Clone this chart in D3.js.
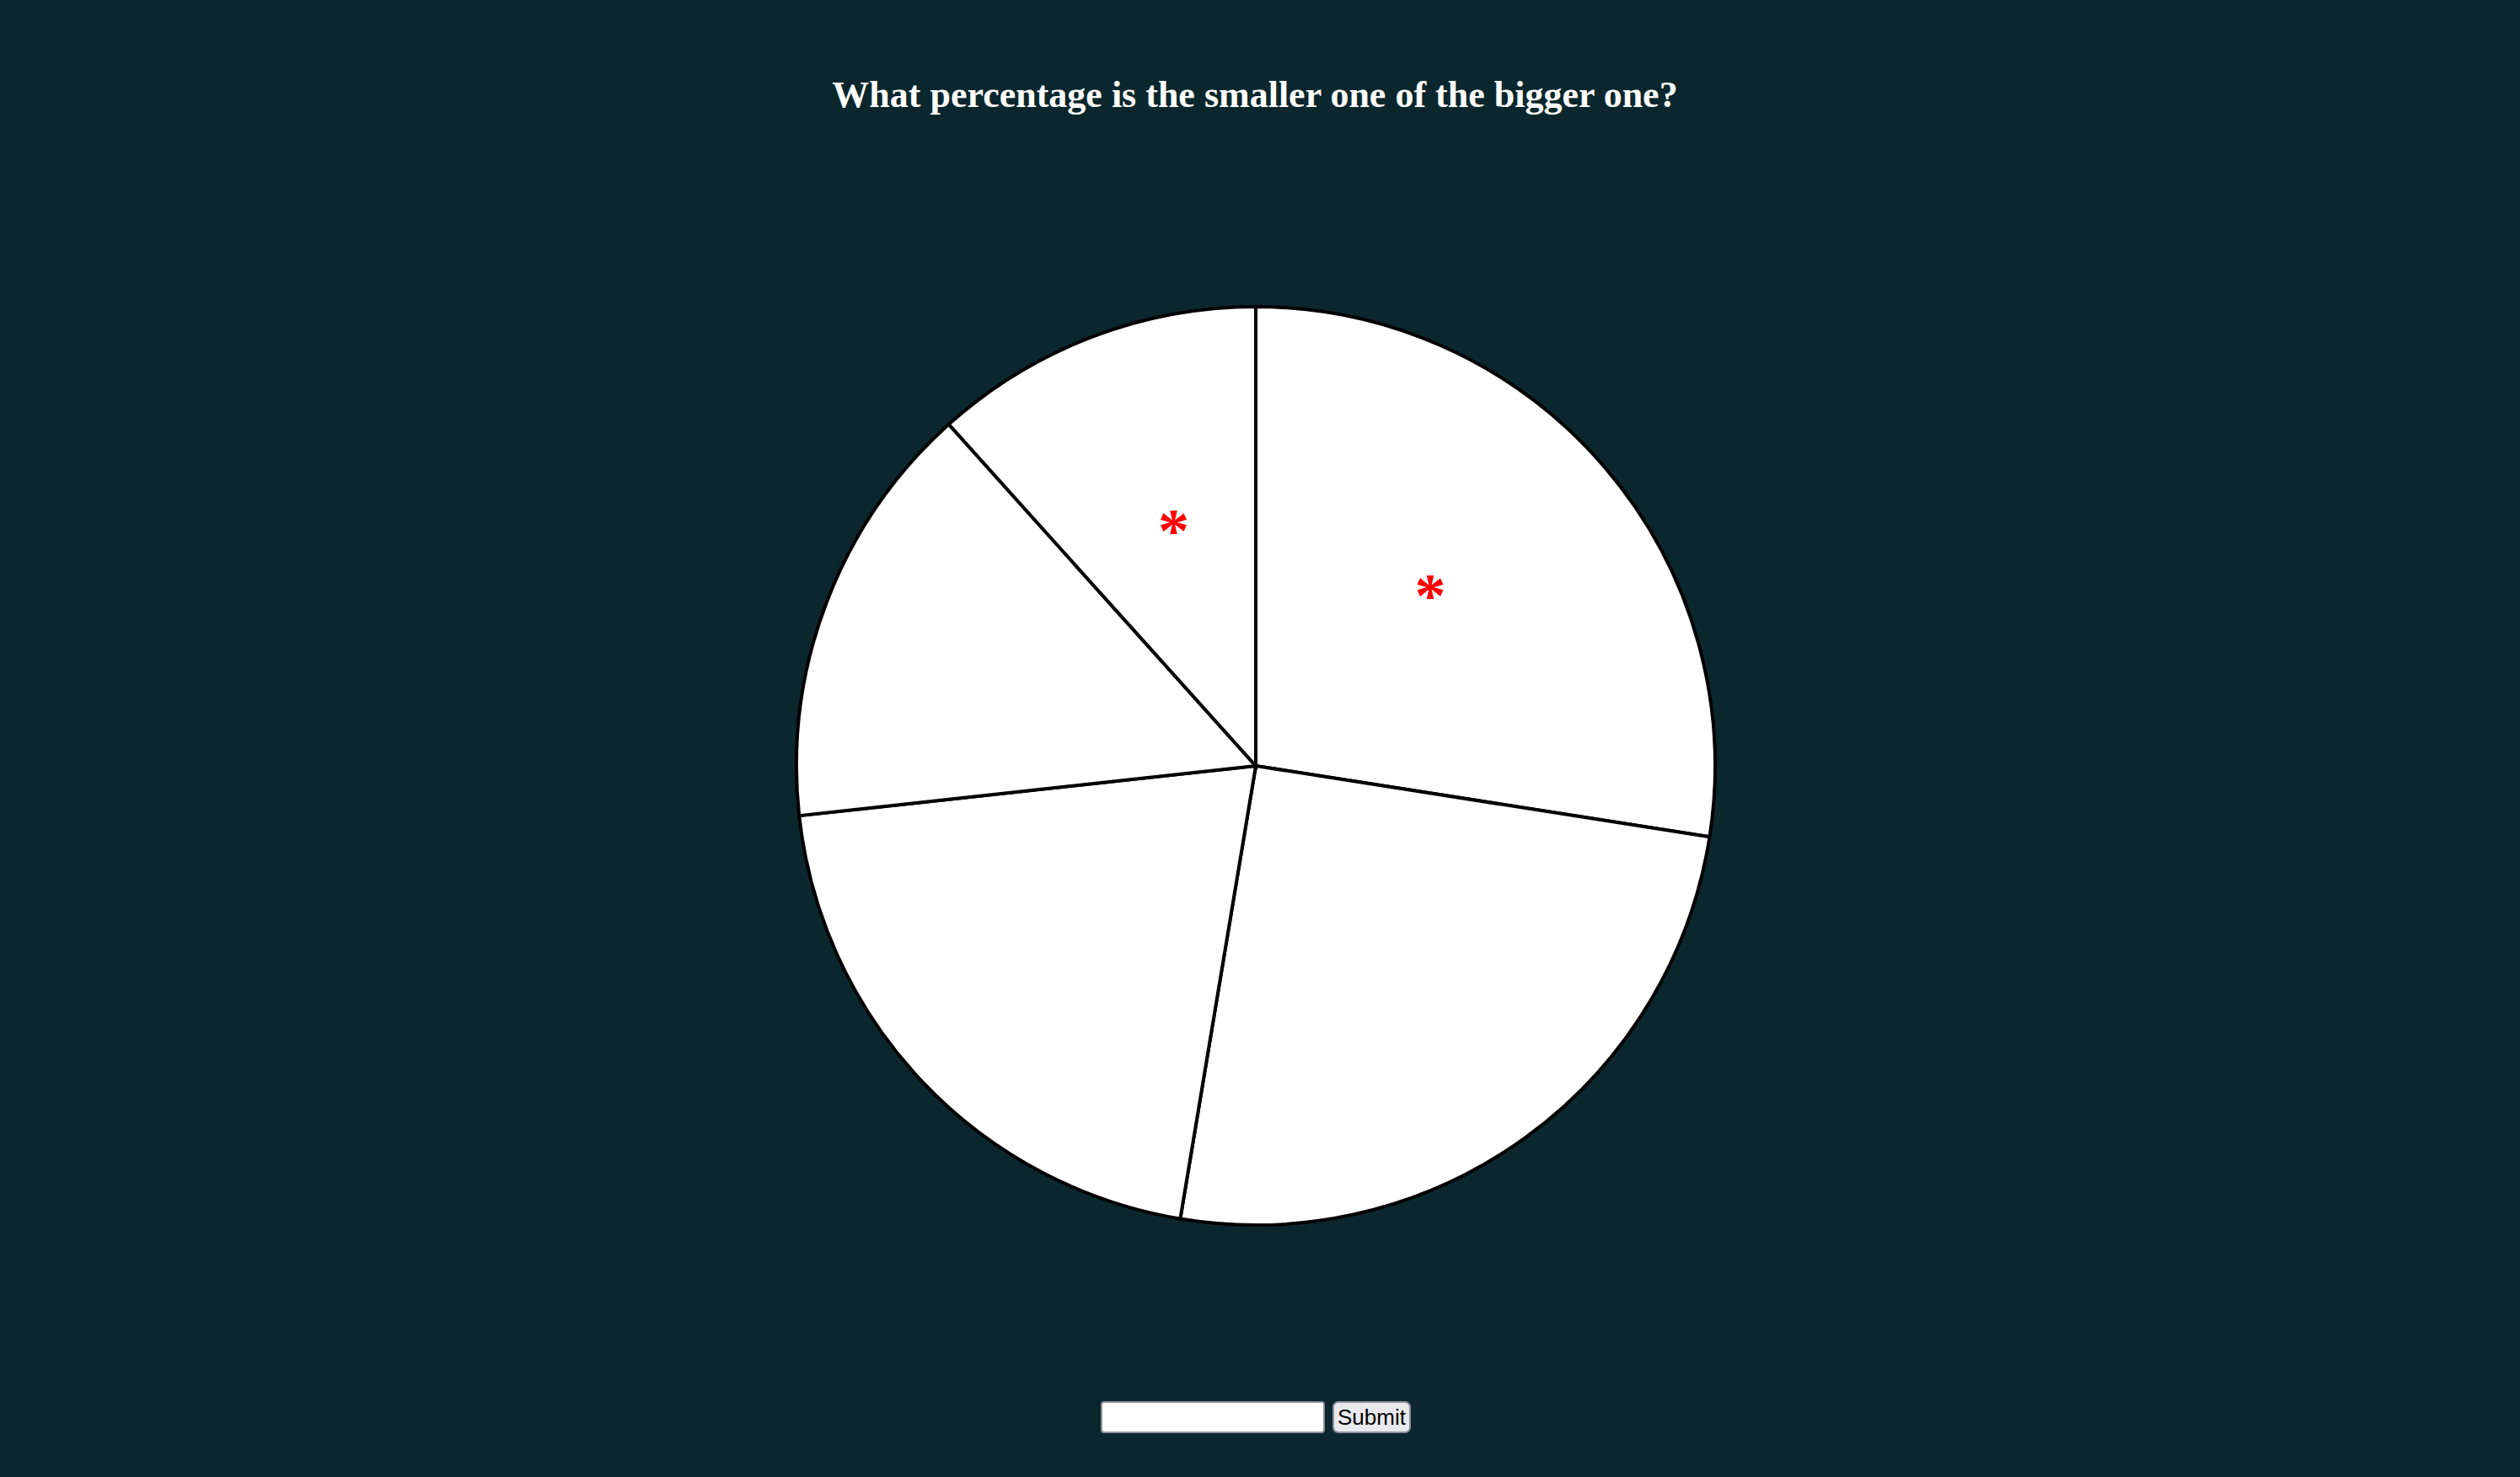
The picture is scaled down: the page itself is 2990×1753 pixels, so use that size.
<!DOCTYPE html>
<html>
<head>
<meta charset="utf-8">
<script src="https://cdn.jsdelivr.net/npm/d3@7"></script>
<style>
  html, body { margin: 0; padding: 0; background: #0b272d; overflow: hidden; }
  #chart { position: absolute; left: 0; top: 0; }
  #answer { position: absolute; left: 1306px; top: 1663px; width: 266px; height: 38px; box-sizing: border-box;
            border: 2px solid #8f8f9d; border-radius: 4px; background: #fff; padding: 0; margin: 0; }
  #submit { position: absolute; left: 1581px; top: 1663px; width: 93px; height: 38px; box-sizing: border-box;
            border: 2px solid #8f8f9d; border-radius: 7px; background: #e9e9ed; padding: 0; margin: 0;
            font-family: "Liberation Sans", Arial, sans-serif; font-size: 26px; color: #000; line-height: 34px; }
</style>
</head>
<body>
<svg id="chart"></svg>
<input id="answer" type="text">
<button id="submit">Submit</button>
<script>
const title = "What percentage is the smaller one of the bigger one?";
const categories = ["A", "B", "C", "D", "E"];
const values = [27.47, 25.16, 20.64, 15.08, 11.65];
const marked = ["A", "E"];

const W = 2990, H = 1753;
const cx = 1490, cy = 909, R = 545;

const svg = d3.select("#chart").attr("width", W).attr("height", H);

svg.append("text")
  .attr("x", 1489).attr("y", 127)
  .attr("text-anchor", "middle")
  .attr("fill", "#ffffff")
  .style("font-family", "'Liberation Serif', 'Times New Roman', serif")
  .style("font-weight", "bold")
  .style("font-size", "44px")
  .text(title);

const data = categories.map((c, i) => ({ cat: c, value: values[i] }));
const pie = d3.pie().sort(null).value(d => d.value);
const arc = d3.arc().innerRadius(0).outerRadius(R);
const arcs = pie(data);

const g = svg.append("g").attr("transform", `translate(${cx},${cy})`);
g.selectAll("path.slice").data(arcs).join("path")
  .attr("class", "slice")
  .attr("d", arc)
  .attr("fill", "#ffffff")
  .attr("stroke", "#000000")
  .attr("stroke-width", 4);

g.selectAll("text.mark").data(arcs.filter(a => marked.includes(a.data.cat))).join("text")
  .attr("class", "mark")
  .attr("transform", d => `translate(${arc.centroid(d)})`)
  .attr("text-anchor", "middle")
  .attr("fill", "#ff0000")
  .style("font-family", "'Liberation Serif', 'Times New Roman', serif")
  .style("font-weight", "bold")
  .style("font-size", "74px")
  .text("*");
</script>
</body>
</html>
